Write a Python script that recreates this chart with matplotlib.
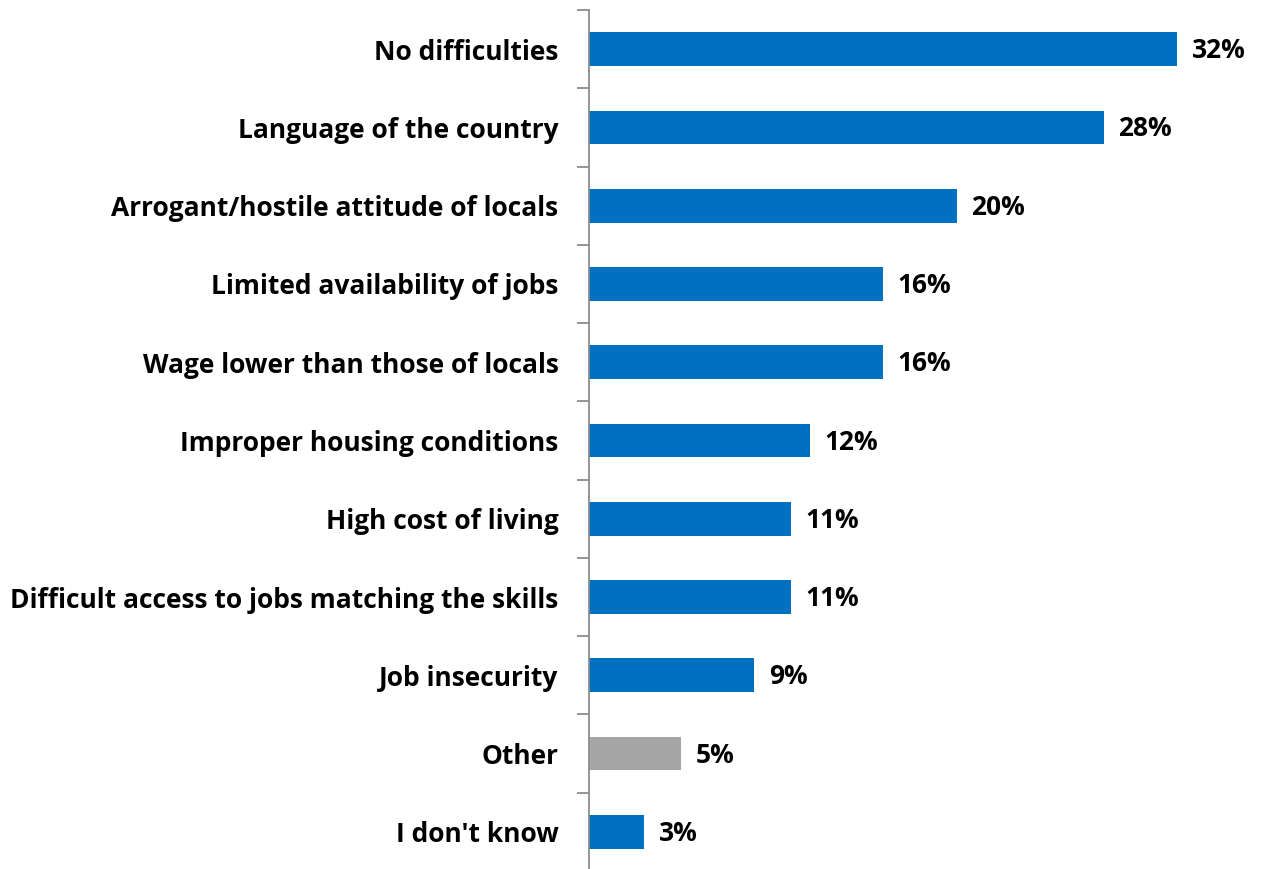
import matplotlib
matplotlib.use("Agg")
import matplotlib.pyplot as plt

categories = [
    "No difficulties",
    "Language of the country",
    "Arrogant/hostile attitude of locals",
    "Limited availability of jobs",
    "Wage lower than those of locals",
    "Improper housing conditions",
    "High cost of living",
    "Difficult access to jobs matching the skills",
    "Job insecurity",
    "Other",
    "I don't know",
]
values = [32, 28, 20, 16, 16, 12, 11, 11, 9, 5, 3]
bar_colors = ["#0070C0"] * 9 + ["#A6A6A6", "#0070C0"]

plt.rcParams["font.family"] = ["Open Sans", "DejaVu Sans"]
FS = 19

fig = plt.figure(figsize=(12.61, 8.69), dpi=100)
ax = fig.add_axes([589 / 1261, 1 - 871 / 869, 661.5 / 1261, 861 / 869])

n = len(categories)
ypos = list(range(n))
ax.barh(ypos, values, height=0.43, color=bar_colors, edgecolor="none", zorder=2)
ax.set_ylim(n - 0.5, -0.5)
ax.set_xlim(0, 36)

for y, v in zip(ypos, values):
    ax.text(v + 0.8, y + 0.02, f"{v}%", va="center", ha="left",
            fontsize=FS, fontweight="bold", color="black")

# category labels placed between the spine ticks
ax.set_yticks(ypos)
ax.set_yticklabels(categories, fontsize=FS, fontweight="bold")
ax.tick_params(axis="y", which="major", length=0, pad=22)
ax.set_yticks([i - 0.5 for i in range(n + 1)], minor=True)
ax.tick_params(axis="y", which="minor", length=9, width=1.3, color="#8C8C8C")

ax.set_xticks([])
for side in ["top", "right", "bottom"]:
    ax.spines[side].set_visible(False)
ax.spines["left"].set_color("#8C8C8C")
ax.spines["left"].set_linewidth(1.3)

fig.savefig("out.png", dpi=100)
